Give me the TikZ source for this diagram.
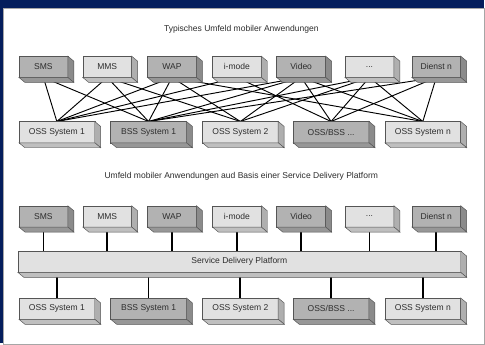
\documentclass[tikz,border=0pt]{standalone}
\usepackage{fontspec}
\setmainfont{Liberation Sans}
\usetikzlibrary{backgrounds}

\definecolor{navy}{RGB}{4,30,92}
\definecolor{boxdark}{RGB}{178,178,178}
\definecolor{boxlight}{RGB}{225,225,225}
\definecolor{edgegray}{RGB}{85,85,85}
\definecolor{txtgray}{RGB}{45,45,45}

% front face as node, side and bottom face drawn after it
\newcommand{\solidbox}[5]{%
  \node[sysbox, minimum width=#3, fill=#4] (#1) at (#2) {#5};
  \filldraw[face, fill=#4!78!black] (#1.north east) -- ++(6,5)
    -- ([shift={(6,5)}]#1.south east) -- (#1.south east) -- cycle;
  \filldraw[face, fill=#4!85!black] (#1.south west) -- (#1.south east)
    -- ([shift={(6,5)}]#1.south east) -- ([shift={(6,5)}]#1.south west) -- cycle;
}

\begin{document}
\begin{tikzpicture}[x=0.03cm, y=-0.03cm,
    sysbox/.style={draw=edgegray, line width=0.4pt, inner sep=0pt, outer sep=0pt,
      minimum height=0.64cm, text=txtgray, font=\fontsize{7.3}{9}\selectfont},
    face/.style={draw=edgegray, line width=0.4pt},
    headline/.style={text=txtgray, font=\fontsize{7.3}{9}\selectfont},
    mesh/.style={black, line width=0.8pt},
    link/.style={black, line width=1.5pt}]

    % upper half
    \node[headline] (title1) at (242,29) {Typisches Umfeld mobiler Anwendungen};

    \solidbox{sms}{43.5,67}{1.47cm}{boxdark}{SMS}
    \solidbox{mms}{107.5,67}{1.47cm}{boxlight}{MMS}
    \solidbox{wap}{172.5,67}{1.47cm}{boxdark}{WAP}
    \solidbox{imode}{237.5,67}{1.47cm}{boxlight}{i-mode}
    \solidbox{video}{302,67}{1.47cm}{boxdark}{Video}
    \solidbox{more}{370.5,67}{1.47cm}{boxlight}{...}
    \solidbox{dienst}{437.5,67}{1.47cm}{boxdark}{Dienst n}

    \solidbox{oss1}{57,132.5}{2.28cm}{boxlight}{OSS System 1}
    \solidbox{bss1}{149,132.5}{2.28cm}{boxdark}{BSS System 1}
    \solidbox{oss2}{241,132.5}{2.28cm}{boxlight}{OSS System 2}
    \solidbox{ossbss}{332,132.5}{2.28cm}{boxdark}{OSS/BSS ...}
    \solidbox{ossn}{424,132.5}{2.28cm}{boxlight}{OSS System n}

    % lower half
    \node[headline] (title2) at (242,177) {Umfeld mobiler Anwendungen aud Basis einer Service Delivery Platform};

    \solidbox{sms2}{43.5,217}{1.47cm}{boxdark}{SMS}
    \solidbox{mms2}{107.5,217}{1.47cm}{boxlight}{MMS}
    \solidbox{wap2}{172.5,217}{1.47cm}{boxdark}{WAP}
    \solidbox{imode2}{237.5,217}{1.47cm}{boxlight}{i-mode}
    \solidbox{video2}{302,217}{1.47cm}{boxdark}{Video}
    \solidbox{more2}{370.5,217}{1.47cm}{boxlight}{...}
    \solidbox{dienst2}{437.5,217}{1.47cm}{boxdark}{Dienst n}

    \solidbox{sdp}{240,262.5}{13.32cm}{boxlight}{Service Delivery Platform}

    \solidbox{oss1b}{57,309.5}{2.28cm}{boxlight}{OSS System 1}
    \solidbox{bss1b}{149,309.5}{2.28cm}{boxdark}{BSS System 1}
    \solidbox{oss2b}{241,309.5}{2.28cm}{boxlight}{OSS System 2}
    \solidbox{ossbssb}{332,309.5}{2.28cm}{boxdark}{OSS/BSS ...}
    \solidbox{ossnb}{424,309.5}{2.28cm}{boxlight}{OSS System n}

    \begin{scope}[on background layer]
        \fill[navy] (0,0) rectangle (485,344);
        \filldraw[fill=white, draw=gray!70, line width=0.6pt] (3.5,8.5) rectangle (486,345);

        \foreach \a/\b in {sms/oss1, sms/bss1, mms/oss1, mms/bss1, mms/oss2,
                wap/oss1, wap/bss1, wap/oss2, wap/ossn, imode/oss1, imode/ossbss,
                video/oss1, video/bss1, video/oss2, video/ossbss, video/ossn,
                more/bss1, more/oss2, more/ossbss, more/ossn,
                dienst/bss1, dienst/ossbss, dienst/ossn}
            \draw[mesh] (\a.south) -- (\b.north);

        \foreach \n in {sms2, mms2, wap2, imode2, video2, more2, dienst2}
            \draw[link] (\n.south) -- (\n.south |- sdp.north);
        \foreach \n in {oss1b, bss1b, oss2b, ossbssb, ossnb}
            \draw[link] (\n.north |- sdp.south) -- (\n.north);
    \end{scope}
\end{tikzpicture}
\end{document}
